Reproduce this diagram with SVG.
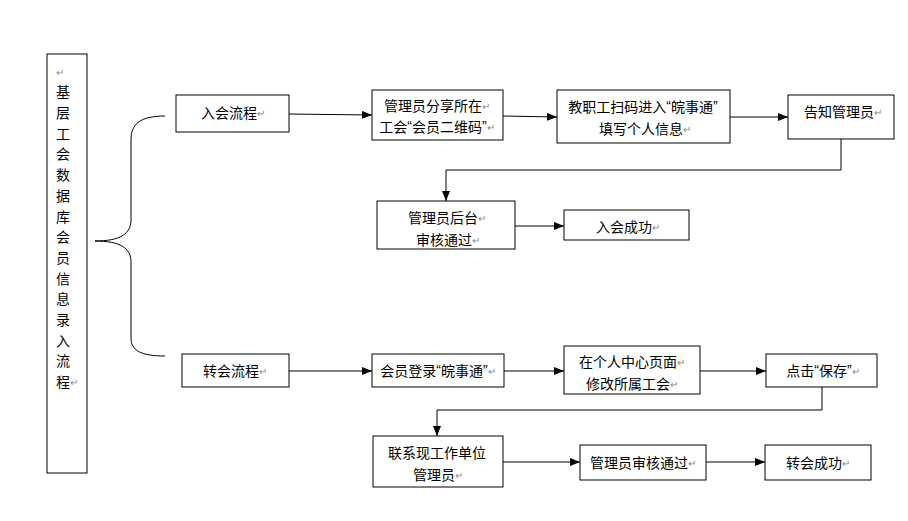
<svg xmlns="http://www.w3.org/2000/svg" width="908" height="521" viewBox="0 0 908 521">
<style>
.box{fill:#fff;stroke:#000;stroke-width:1}
.t{font-family:"Noto Sans CJK SC","Liberation Sans",sans-serif;font-size:14px;fill:#000;text-anchor:middle;dominant-baseline:central}
.r{fill:#888;font-size:10px}
.q{font-family:"Liberation Sans",sans-serif}
.c{fill:none;stroke:#000;stroke-width:1}
</style>
<defs>
<marker id="ah" viewBox="0 0 10 8" refX="10" refY="4" markerWidth="10" markerHeight="8" markerUnits="userSpaceOnUse" orient="auto">
<path d="M0,0 L10,4 L0,8 Z" fill="#000"/>
</marker>
</defs>
<rect width="908" height="521" fill="#fff"/>

<g id="title">
<rect class="box" x="47" y="54" width="40" height="419"/>
<text class="t r" x="60" y="71">↵</text>
<text class="t" x="63" y="91">基</text>
<text class="t" x="63" y="112">层</text>
<text class="t" x="63" y="133">工</text>
<text class="t" x="63" y="153">会</text>
<text class="t" x="63" y="174">数</text>
<text class="t" x="63" y="195">据</text>
<text class="t" x="63" y="216">库</text>
<text class="t" x="63" y="236">会</text>
<text class="t" x="63" y="257">员</text>
<text class="t" x="63" y="278">信</text>
<text class="t" x="63" y="298">息</text>
<text class="t" x="63" y="319">录</text>
<text class="t" x="63" y="340">入</text>
<text class="t" x="63" y="360">流</text>
<text class="t" x="67" y="381">程<tspan class="r">↵</tspan></text>
</g>

<g id="brace">
<path class="c" d="M165,116 C140,116 131,124 131,140 L131,220 C131,234 120,241 95,241 C120,241 131,248 131,262 L131,338 C131,350 140,356 165,356"/>
</g>

<g id="n1">
<rect class="box" x="176" y="95" width="113" height="37"/>
<text class="t" x="233" y="112">入会流程<tspan class="r">↵</tspan></text>
</g>
<g id="n2">
<rect class="box" x="372" y="90" width="131" height="50"/>
<text class="t" x="437" y="105">管理员分享所在<tspan class="r">↵</tspan></text>
<text class="t" x="437" y="126">工会<tspan class="q">“</tspan>会员二维码<tspan class="q">”</tspan><tspan class="r">↵</tspan></text>
</g>
<g id="n3">
<rect class="box" x="557" y="90" width="173" height="53"/>
<text class="t" x="643" y="106">教职工扫码进入<tspan class="q">“</tspan>皖事通<tspan class="q">”</tspan></text>
<text class="t" x="645" y="128">填写个人信息<tspan class="r">↵</tspan></text>
</g>
<g id="n4">
<rect class="box" x="788" y="95" width="106" height="44"/>
<text class="t" x="843" y="111">告知管理员<tspan class="r">↵</tspan></text>
</g>
<g id="n5">
<rect class="box" x="377" y="201" width="138" height="48"/>
<text class="t" x="447" y="217">管理员后台<tspan class="r">↵</tspan></text>
<text class="t" x="448" y="239">审核通过<tspan class="r">↵</tspan></text>
</g>
<g id="n6">
<rect class="box" x="564" y="210" width="125" height="30"/>
<text class="t" x="628" y="226">入会成功<tspan class="r">↵</tspan></text>
</g>

<g id="m1">
<rect class="box" x="182" y="354" width="107" height="33"/>
<text class="t" x="235" y="370">转会流程<tspan class="r">↵</tspan></text>
</g>
<g id="m2">
<rect class="box" x="372" y="354" width="132" height="33"/>
<text class="t" x="438" y="370">会员登录<tspan class="q">“</tspan>皖事通<tspan class="q">”</tspan><tspan class="r">↵</tspan></text>
</g>
<g id="m3">
<rect class="box" x="564" y="346" width="136" height="48"/>
<text class="t" x="632" y="361">在个人中心页面<tspan class="r">↵</tspan></text>
<text class="t" x="632" y="383">修改所属工会<tspan class="r">↵</tspan></text>
</g>
<g id="m4">
<rect class="box" x="766" y="354" width="111" height="33"/>
<text class="t" x="823" y="370">点击<tspan class="q">“</tspan>保存<tspan class="q">”</tspan><tspan class="r">↵</tspan></text>
</g>
<g id="m5">
<rect class="box" x="373" y="436" width="130" height="51"/>
<text class="t" x="437" y="452">联系现工作单位</text>
<text class="t" x="438" y="474">管理员<tspan class="r">↵</tspan></text>
</g>
<g id="m6">
<rect class="box" x="580" y="445" width="126" height="35"/>
<text class="t" x="643" y="462">管理员审核通过<tspan class="r">↵</tspan></text>
</g>
<g id="m7">
<rect class="box" x="765" y="445" width="106" height="35"/>
<text class="t" x="818" y="462">转会成功<tspan class="r">↵</tspan></text>
</g>

<g id="connectors">
<path class="c" d="M289,114 L372,115" marker-end="url(#ah)"/>
<path class="c" d="M503,116 L557,117" marker-end="url(#ah)"/>
<path class="c" d="M730,117 L788,117" marker-end="url(#ah)"/>
<path class="c" d="M841,139 L841,170 L446,170 L446,201" marker-end="url(#ah)"/>
<path class="c" d="M515,226 L564,226" marker-end="url(#ah)"/>
<path class="c" d="M289,371 L372,371" marker-end="url(#ah)"/>
<path class="c" d="M504,371 L564,371" marker-end="url(#ah)"/>
<path class="c" d="M700,371 L766,371" marker-end="url(#ah)"/>
<path class="c" d="M822,387 L822,410 L437,410 L437,436" marker-end="url(#ah)"/>
<path class="c" d="M503,462 L580,462" marker-end="url(#ah)"/>
<path class="c" d="M706,462 L765,462" marker-end="url(#ah)"/>
</g>
</svg>
